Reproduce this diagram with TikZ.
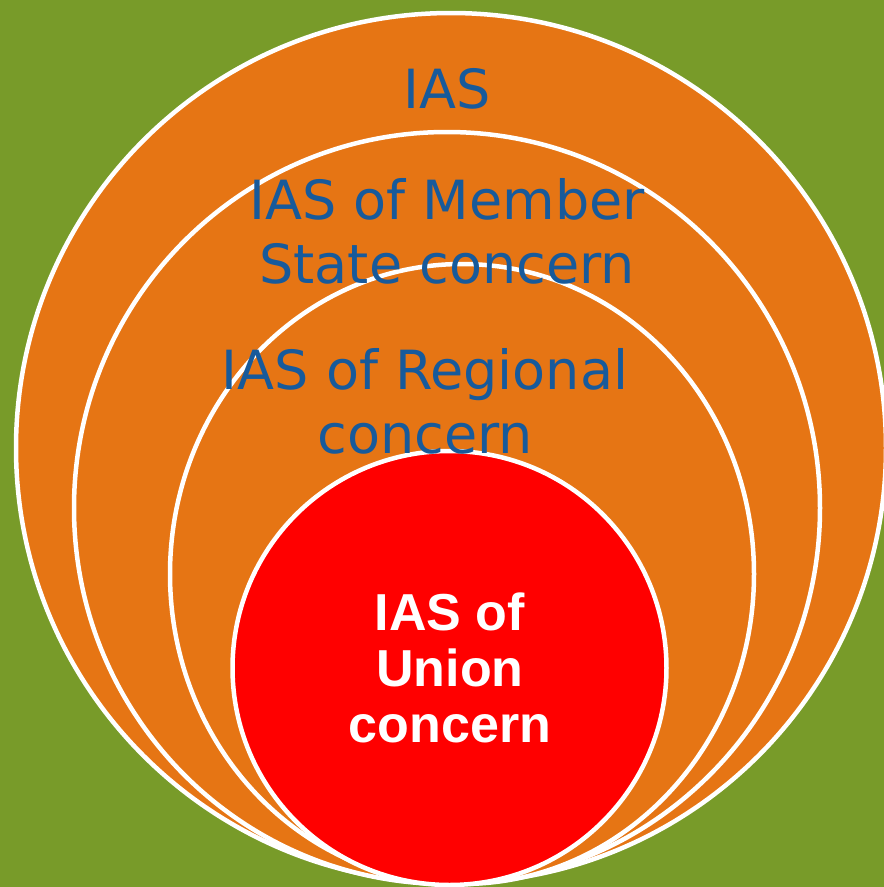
\documentclass[tikz,border=0pt]{standalone}
\usepackage{fontspec}
\newfontfamily\iasfont{DejaVu Sans}
\newfontfamily\unionfont{Liberation Sans}
\usetikzlibrary{calc}
\definecolor{bggreen}{RGB}{120,155,41}
\definecolor{ringorange}{RGB}{230,117,20}
\definecolor{iasblue}{RGB}{23,90,155}
\definecolor{unionred}{RGB}{255,0,0}
\tikzset{
	ring/.style={line width=4.5pt, draw=white, fill=ringorange},
	core/.style={line width=4.5pt, draw=white, fill=unionred},
	ringtext/.style={text=iasblue, align=center, inner sep=0pt, font={\iasfont\fontsize{54}{64}\selectfont}},
	coretext/.style={text=white, align=center, inner sep=0pt, font={\unionfont\bfseries\fontsize{52}{56}\selectfont}}
}

\begin{document}
\begin{tikzpicture}[x=1pt, y=-1pt]
		%%%%% START %%%%%
		
		\useasboundingbox (0, 0) rectangle (884, 887);
		\clip (0, 0) rectangle (884, 887);
		\fill[bggreen] (0, 0) rectangle (884, 887);
		
		\draw[ring] (451, 448) circle[radius=435pt];
		\draw[ring] (447, 508) circle[x radius=373pt, y radius=376pt];
		\draw[ring] (462, 574) circle[x radius=292pt, y radius=310pt];
		\draw[core] (449.5, 668) circle[radius=217pt];
		
		\node[ringtext, anchor=base] (ias) at (447, 108) {IAS};
		\node[ringtext] (member) at (447, 231) {IAS of Member\\State concern};
		\node[ringtext] (regional) at (425, 401) {IAS of Regional\\concern};
		\node[coretext] (union) at (450, 668) {IAS of\\Union\\concern};
		
		%%%%% END %%%%%
	\end{tikzpicture}
\end{document}
